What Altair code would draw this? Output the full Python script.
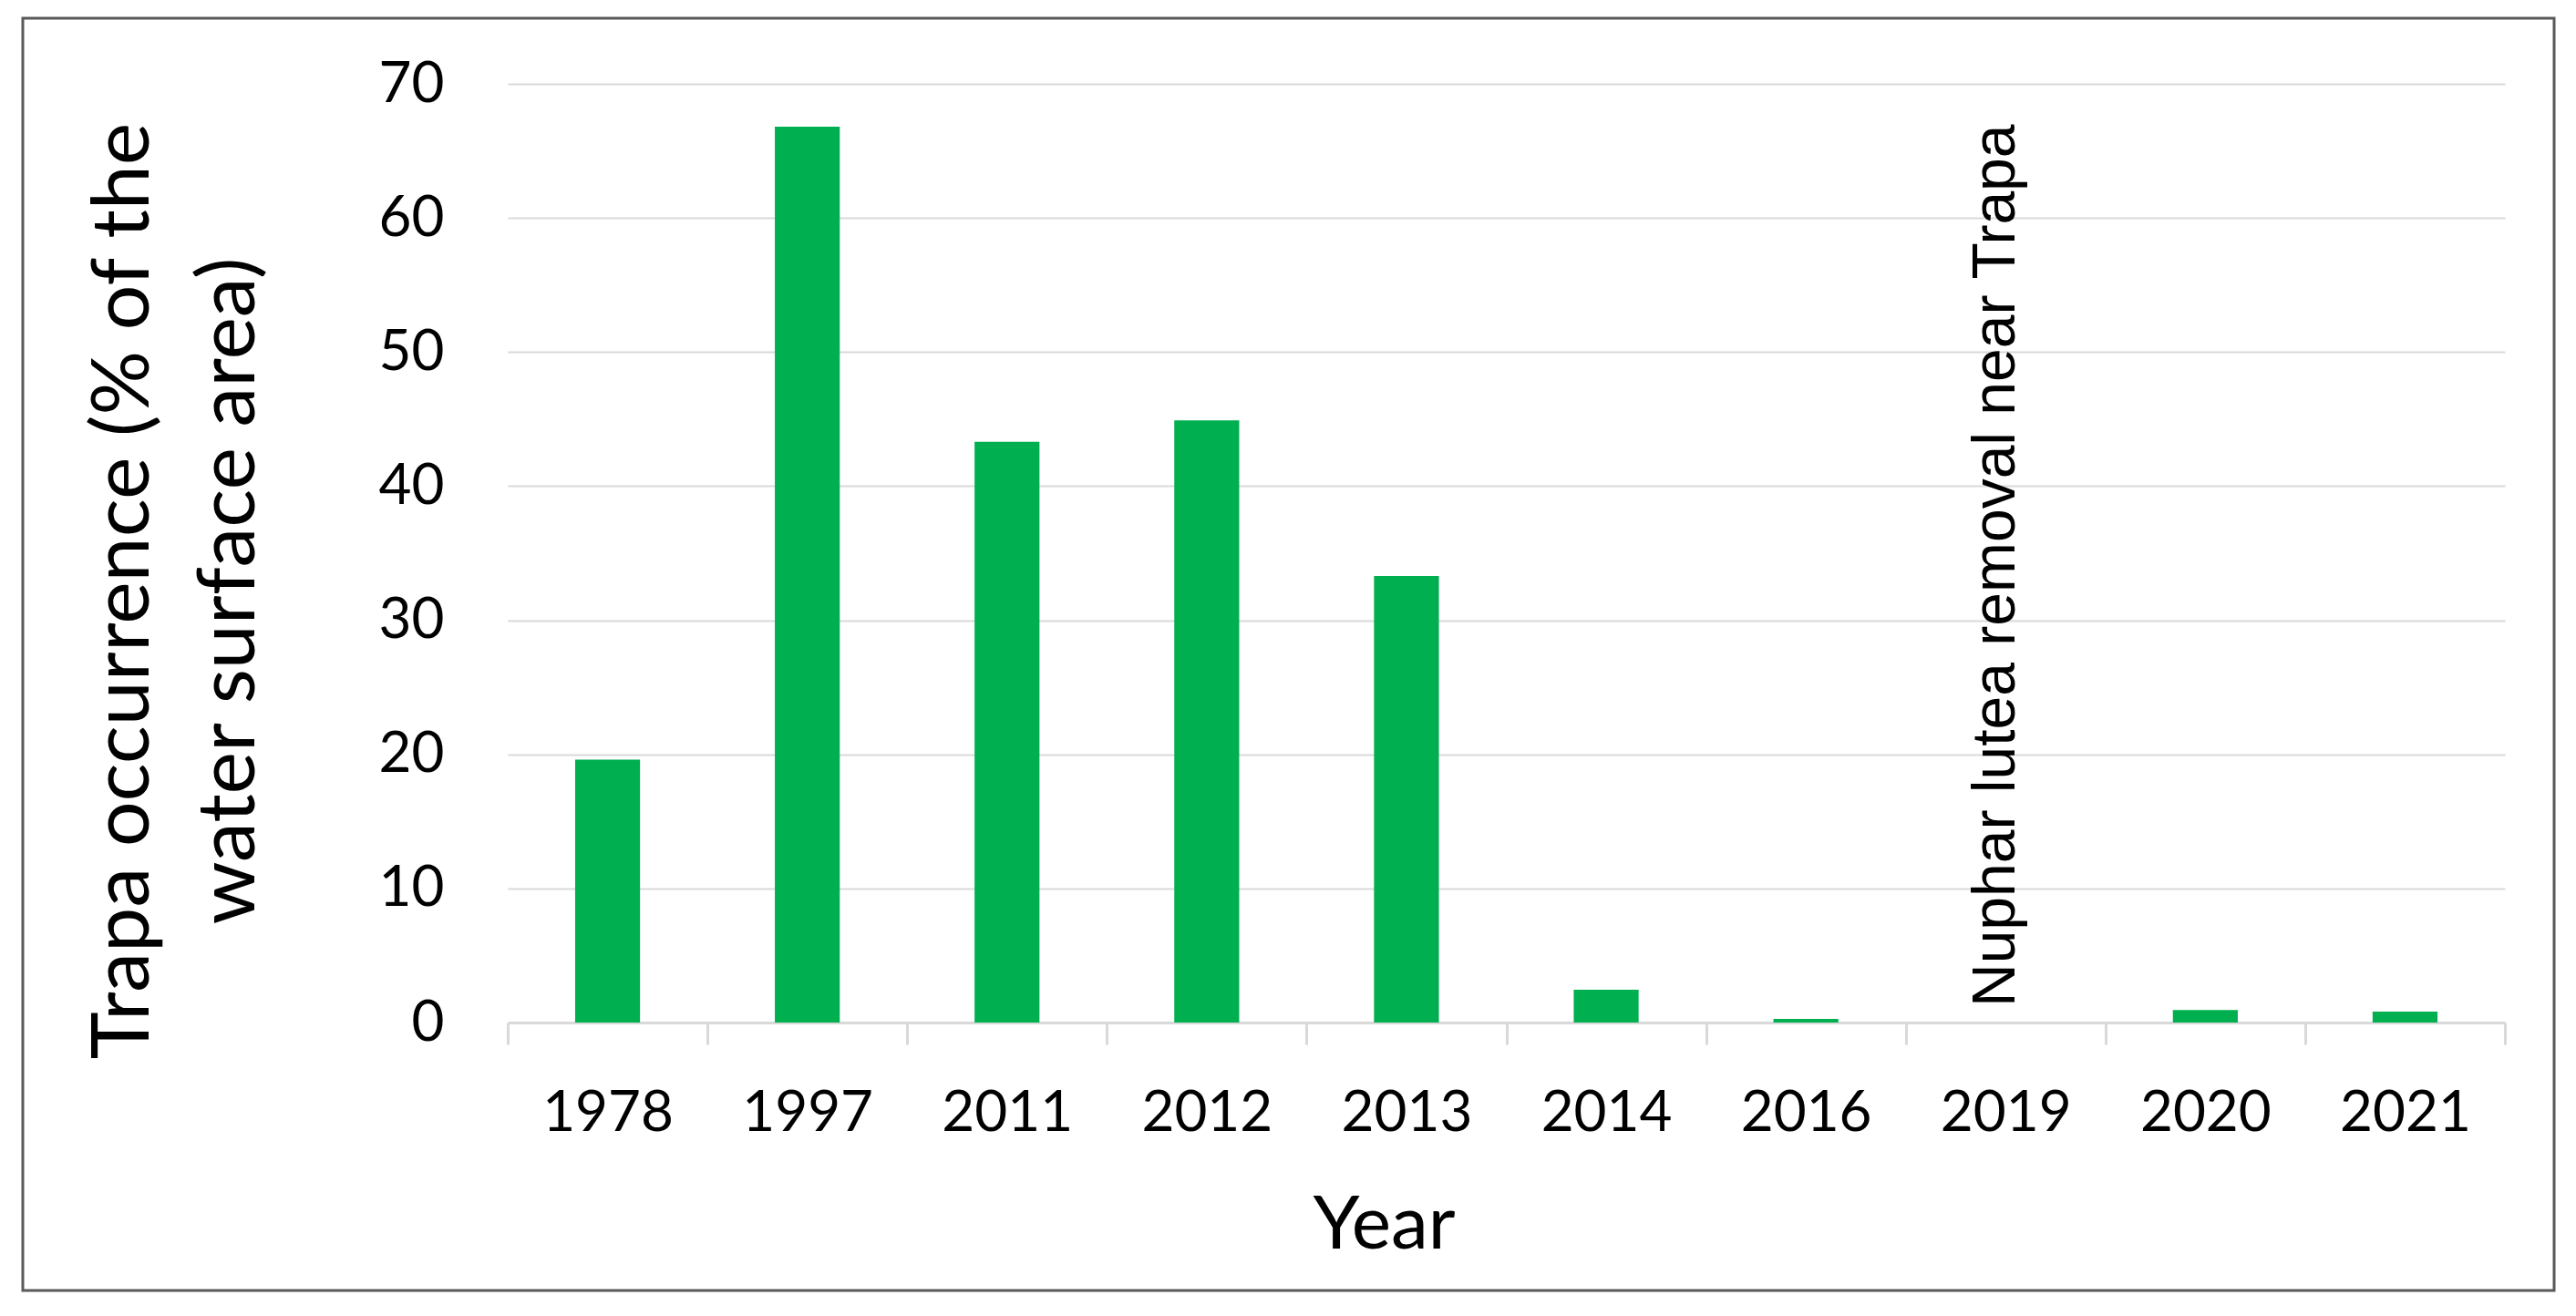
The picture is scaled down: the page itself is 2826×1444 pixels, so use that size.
import altair as alt
import pandas as pd

years = ["1978", "1997", "2011", "2012", "2013", "2014", "2016", "2019", "2020", "2021"]
occurrence = [19.6, 66.8, 43.3, 44.9, 33.3, 2.45, 0.27, 0.0, 0.93, 0.82]
y_ticks = [0, 10, 20, 30, 40, 50, 60, 70]

note_year = ["2019"]
note_value = [0]
note_text = ["Nuphar lutea removal near Trapa"]

y_title = ["Trapa occurrence (% of the", "water surface area)"]
x_title = "Year"

df = pd.DataFrame({"Year": years, "Occurrence": occurrence})
notes = pd.DataFrame({"Year": note_year, "v": note_value, "text": note_text})
frame = pd.DataFrame({"a": [0]})

GRID = "#d9d9d9"
FONT = "Lato"

x_enc = alt.X(
    "Year:N",
    sort=years,
    scale=alt.Scale(paddingInner=0, paddingOuter=0),
    axis=alt.Axis(
        title=x_title,
        tickBand="extent",
        ticks=True,
        tickSize=24,
        tickColor=GRID,
        tickWidth=3,
        domainColor=GRID,
        domainWidth=3,
        labelFont=FONT,
        labelFontSize=62,
        labelColor="black",
        labelPadding=45,
        labelAngle=0,
        grid=False,
        titleFont=FONT,
        titleFontSize=82,
        titleFontWeight="normal",
        titleColor="black",
        titleX=961,
        titleY=247,
        titleAlign="center",
        titleBaseline="alphabetic",
    ),
)

y_enc = alt.Y(
    "Occurrence:Q",
    scale=alt.Scale(domain=[0, 70], nice=False),
    axis=alt.Axis(
        title=y_title,
        values=y_ticks,
        ticks=False,
        tickSize=0,
        domain=False,
        grid=True,
        gridColor=GRID,
        gridWidth=2,
        labelFont=FONT,
        labelFontSize=62,
        labelColor="black",
        labelPadding=70,
        titleFont=FONT,
        titleFontSize=88,
        titleFontWeight="normal",
        titleColor="black",
        titleAngle=270,
        titleX=-395,
        titleY=556,
        titleAlign="center",
        titleBaseline="alphabetic",
        titleLineHeight=116,
    ),
)

bars = alt.Chart(df).mark_bar(
    width=alt.RelativeBandSize(0.325), color="#00b050"
).encode(x=x_enc, y=y_enc)

note = alt.Chart(notes).mark_text(
    angle=270,
    align="left",
    baseline="alphabetic",
    dx=17,
    dy=10,
    font="Liberation Sans",
    fontSize=66,
    color="black",
).encode(
    x=alt.X("Year:N", sort=years),
    y=alt.Y("v:Q"),
    text="text:N",
)

border = alt.Chart(frame).mark_rect(
    filled=False, stroke="#595959", strokeWidth=3
).encode(
    x=alt.value(-532), x2=alt.value(2245), y=alt.value(-72), y2=alt.value(1324)
)

chart = (
    alt.layer(bars, note, border)
    .properties(
        width=2191,
        height=1030,
        autosize=alt.AutoSizeParams(type="none"),
        padding={"left": 549, "top": 84, "right": 70, "bottom": 300},
        background="white",
    )
    .configure_view(stroke=None)
)

chart.save("out.html", embed_options={"renderer": "svg", "actions": False})
